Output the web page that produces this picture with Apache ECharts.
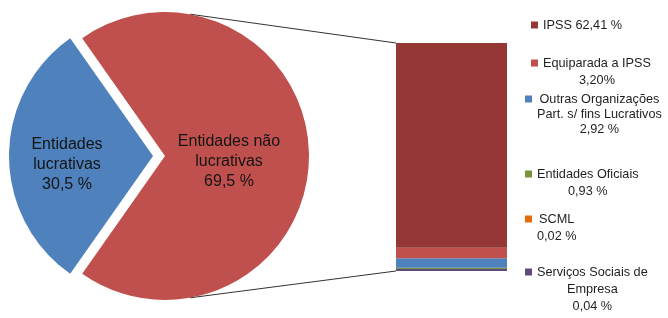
<!DOCTYPE html>
<html>
<head>
<meta charset="utf-8">
<script src="https://cdn.jsdelivr.net/npm/echarts@6/dist/echarts.min.js"></script>
<style>
html,body{margin:0;padding:0;background:#fff;}
#main{width:668px;height:318px;}
</style>
</head>
<body>
<div id="main"></div>
<script>
// ---- data ----
const pieNames = ['Entidades não lucrativas', 'Entidades lucrativas'];
const pieValues = [69.5, 30.5];
const pieLabels = ['Entidades não\nlucrativas\n69,5 %', 'Entidades\nlucrativas\n30,5 %'];

const barNames = ['IPSS', 'Equiparada a IPSS', 'Outras Organizações Part. s/ fins Lucrativos', 'Entidades Oficiais', 'SCML', 'Serviços Sociais de Empresa'];
const barValues = [62.41, 3.20, 2.92, 0.93, 0.02, 0.04];
const legendLines = [
  ['IPSS 62,41 %'],
  ['Equiparada a IPSS', '3,20%'],
  ['Outras Organizações', 'Part. s/ fins Lucrativos', '2,92 %'],
  ['Entidades Oficiais', '0,93 %'],
  ['SCML', '0,02 %'],
  ['Serviços Sociais de', 'Empresa', '0,04 %']
];

// ---- styles / layout ----
const pieColors = ['#C0504D', '#4F81BD'];
const barColors = ['#953735', '#C0504D', '#4F81BD', '#77933C', '#E46C0A', '#604A7B'];
const legendIconCenters = [[531, 25], [531, 63], [525, 99], [525, 174], [525, 219], [525, 272]];
const legendLH = [16, 17, 15, 17, 17, 17];
const pieCenter = [165, 156];
const pieRadius = 144;
const barGrid = {left: 396, top: 43, width: 111, height: 228};
const labelShift = [[-5.5, 3], [-11, 9]];
const legendFont = '"Liberation Sans", Arial, sans-serif';
const labelFont = '"Liberation Sans", Arial, sans-serif';

const total = barValues.reduce((a, b) => a + b, 0);
const blueHalf = pieValues[1] / 100 * 360 / 2;

const chart = echarts.init(document.getElementById('main'));

const legends = barNames.map((name, i) => {
  const n = legendLines[i].length;
  const LH = legendLH[i];
  return {
    data: [name],
    left: legendIconCenters[i][0],
    top: legendIconCenters[i][1] - (2 * n - 1) * LH / 2,
    padding: 0,
    icon: 'rect',
    itemWidth: 7,
    itemHeight: 7,
    selectedMode: false,
    formatter: () => legendLines[i].map(s => '{c|' + s + '}').join('\n'),
    textStyle: {
      padding: [(n - 1) * LH, 0, 0, 0],
      fontSize: 12.7,
      lineHeight: LH,
      fontFamily: legendFont,
      color: '#1f1f1f',
      rich: {c: {align: 'center', fontSize: 12.7, lineHeight: LH, fontFamily: legendFont, color: '#1f1f1f'}}
    }
  };
});

// stack bottom-up: last category at bottom
const order = [5, 4, 3, 2, 1, 0];
const barSeries = order.map(i => ({
  type: 'bar',
  name: barNames[i],
  stack: 'total',
  data: [barValues[i]],
  barWidth: '100%',
  itemStyle: {color: barColors[i]},
  barMinHeight: i === 5 ? 2 : 0,
  z: i === 5 ? 3 : 2,
  silent: true
}));

chart.setOption({
  animation: false,
  backgroundColor: '#fff',
  legend: legends,
  grid: {left: barGrid.left, top: barGrid.top, width: barGrid.width, height: barGrid.height},
  xAxis: {type: 'category', data: ['total'], show: false},
  yAxis: {type: 'value', min: 0, max: total, show: false},
  series: [
    {
      type: 'pie',
      center: pieCenter,
      radius: pieRadius,
      startAngle: 180 - blueHalf,
      clockwise: true,
      selectedMode: 'single',
      selectedOffset: 12,
      silent: true,
      label: {
        show: true,
        position: 'inside',
        fontSize: 16,
        lineHeight: 20,
        fontFamily: labelFont,
        color: '#141414',
        align: 'center'
      },
      labelLayout: function (params) {
        const s = labelShift[params.dataIndex];
        return {dx: s[0], dy: s[1]};
      },
      labelLine: {show: false},
      data: pieNames.map((name, i) => ({
        name: name,
        value: pieValues[i],
        selected: i === 1,
        itemStyle: {color: pieColors[i]},
        label: {formatter: pieLabels[i]}
      }))
    },
    ...barSeries
  ]
});

// connector lines from pie edge to bar corners
const topPt = chart.convertToPixel({gridIndex: 0}, [0, total]);
const botPt = chart.convertToPixel({gridIndex: 0}, [0, 0]);
const ang = 80 * Math.PI / 180;
const pTop = [pieCenter[0] + pieRadius * Math.cos(ang), pieCenter[1] - pieRadius * Math.sin(ang)];
const pBot = [pieCenter[0] + pieRadius * Math.cos(ang), pieCenter[1] + pieRadius * Math.sin(ang)];
chart.setOption({
  graphic: [
    {type: 'line', shape: {x1: pTop[0], y1: pTop[1], x2: barGrid.left, y2: topPt[1]}, style: {stroke: '#333', lineWidth: 1}, z: 1},
    {type: 'line', shape: {x1: pBot[0], y1: pBot[1], x2: barGrid.left, y2: botPt[1]}, style: {stroke: '#333', lineWidth: 1}, z: 1}
  ]
});
</script>
</body>
</html>
